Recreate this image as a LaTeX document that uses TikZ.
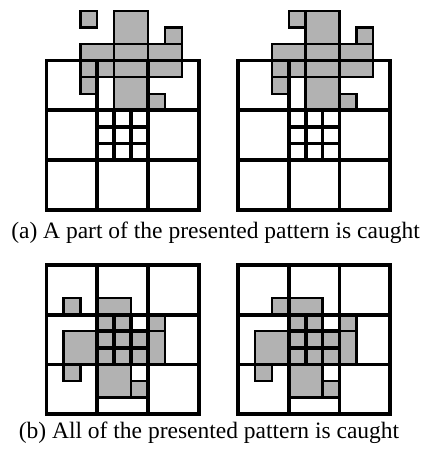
\documentclass[tikz,border=0pt]{standalone}
\usepackage{fontspec}
\setmainfont{Liberation Serif}

% pattern of the presented figure, #1 = column of the lone square
\newcommand{\drawpattern}[1]{%
  \foreach \i/\j in {#1/11, 7/10, 2/7, 6/6}
    \draw[cell] (\i,\j) rectangle ++(1,1);
  \foreach \i/\j in {4/10, 2/8, 4/8, 6/8, 4/6}
    \draw[cell] (\i,\j) rectangle ++(2,2);
}
% receptive grid with a finer centre
\newcommand{\drawgrid}{%
  \foreach \k in {3,6} {
    \draw[wall] (\k,0) -- (\k,9);
    \draw[wall] (0,\k) -- (9,\k);
  }
  \foreach \k in {4,5} {
    \draw[wall] (\k,3) -- (\k,6);
    \draw[wall] (3,\k) -- (6,\k);
  }
  \draw[wall] (0,0) rectangle (9,9);
}

\begin{document}
\begin{tikzpicture}[x=1pt, y=1pt,
  cell/.style={fill=black!30, draw=black, line width=2.4pt},
  wall/.style={draw=black, line width=3.8pt, line cap=rect},
  every node/.style={font=\fontsize{23.5}{28}\selectfont, anchor=base}]

  \useasboundingbox (0,0) rectangle (425,449);

  % (a) upper panels
  \begin{scope}[shift={(46.5pt,239pt)}, x=16.9pt, y=16.6pt]
    \drawpattern{2}
    \drawgrid
  \end{scope}
  \begin{scope}[shift={(238pt,239pt)}, x=16.9pt, y=16.6pt]
    \drawpattern{3}
    \drawgrid
  \end{scope}

  % (b) lower panels
  \begin{scope}[shift={(46.5pt,34.7pt)}, x=16.9pt, y=16.6pt]
    \begin{scope}[shift={(-1,-5)}]
      \drawpattern{2}
    \end{scope}
    \drawgrid
  \end{scope}
  \begin{scope}[shift={(238pt,34.7pt)}, x=16.9pt, y=16.6pt]
    \begin{scope}[shift={(-1,-5)}]
      \drawpattern{3}
    \end{scope}
    \drawgrid
  \end{scope}

  % Captions
  \node (capA) at (215.5,210.5) {(a) A part of the presented pattern is caught};
  \node (capB) at (209,10) {(b) All of the presented pattern is caught};

\end{tikzpicture}
\end{document}
